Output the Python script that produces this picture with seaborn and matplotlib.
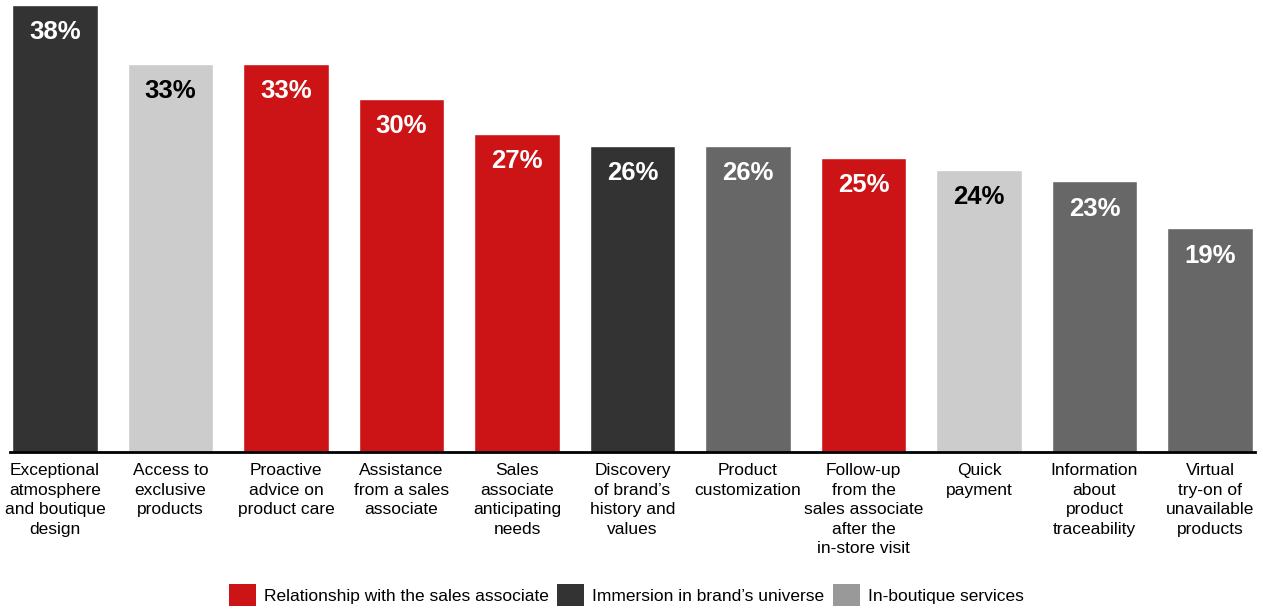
import matplotlib
matplotlib.use("Agg")
import matplotlib.pyplot as plt
from matplotlib.patches import Patch
import seaborn as sns
import pandas as pd

# Share of respondents citing each in-store experience element (%)
categories = [
    "Exceptional\natmosphere\nand boutique\ndesign",
    "Access to\nexclusive\nproducts",
    "Proactive\nadvice on\nproduct care",
    "Assistance\nfrom a sales\nassociate",
    "Sales\nassociate\nanticipating\nneeds",
    "Discovery\nof brand\u2019s\nhistory and\nvalues",
    "Product\ncustomization",
    "Follow-up\nfrom the\nsales associate\nafter the\nin-store visit",
    "Quick\npayment",
    "Information\nabout\nproduct\ntraceability",
    "Virtual\ntry-on of\nunavailable\nproducts",
]
values = [38, 33, 33, 30, 27, 26, 26, 25, 24, 23, 19]
bar_colors = ["#333333", "#cccccc", "#cc1417", "#cc1417", "#cc1417", "#333333",
              "#676767", "#cc1417", "#cccccc", "#676767", "#676767"]
label_colors = ["white", "black", "white", "white", "white", "white",
                "white", "white", "black", "white", "white"]

legend_labels = ["Relationship with the sales associate",
                 "Immersion in brand\u2019s universe",
                 "In-boutique services"]
legend_colors = ["#cc1417", "#333333", "#999999"]

sns.set_theme(style="white")
plt.rcParams["font.family"] = ["Liberation Sans", "DejaVu Sans"]
plt.rcParams["text.color"] = "black"

df = pd.DataFrame({"item": categories, "share": values})

fig = plt.figure(figsize=(12.63, 6.09), dpi=100)
ax = fig.add_axes([0.0079, 0.2578, 0.9858, 0.734])

sns.barplot(data=df, x="item", y="share", hue="item", palette=bar_colors,
            legend=False, width=0.74, saturation=1, ax=ax)

for patch, v, c in zip(ax.patches, values, label_colors):
    ax.annotate(f"{v}%", (patch.get_x() + patch.get_width() / 2, v),
                xytext=(0, -19.5), textcoords="offset points",
                ha="center", va="center", fontsize=18.5, fontweight="bold",
                color=c)

ax.set_ylim(0, 38)
ax.set_xlim(-0.39, 10.39)
ax.set_xlabel("")
ax.set_ylabel("")
ax.set_yticks([])
for side in ["top", "right", "left"]:
    ax.spines[side].set_visible(False)
ax.spines["bottom"].set_color("black")
ax.spines["bottom"].set_linewidth(2)
ax.tick_params(axis="x", length=0, pad=8)
for t in ax.get_xticklabels():
    t.set_fontsize(12.5)
    t.set_color("black")
    t.set_linespacing(1.38)
    t.set_verticalalignment("top")

handles = [Patch(facecolor=c, edgecolor="none") for c in legend_colors]
leg = fig.legend(handles, legend_labels, loc="center",
                 bbox_to_anchor=(0.496, 0.023), ncol=3, frameon=False,
                 fontsize=12.5, handlelength=1.55, handleheight=1.55,
                 handletextpad=0.46, columnspacing=0.5, borderpad=0,
                 borderaxespad=0)
for t in leg.get_texts():
    t.set_color("black")

fig.savefig("out.png", dpi=100)
